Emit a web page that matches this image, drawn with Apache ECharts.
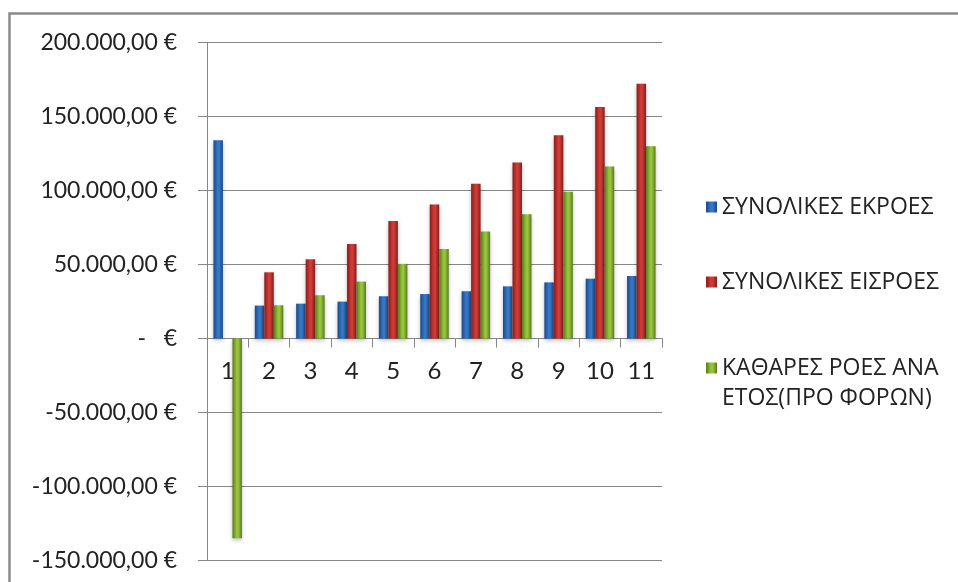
<!DOCTYPE html>
<html>
<head>
<meta charset="utf-8">
<style>
  html, body { margin: 0; padding: 0; background: #ffffff; }
  #chart { width: 958px; height: 582px; }
</style>
<script src="https://cdn.jsdelivr.net/npm/echarts@6/dist/echarts.min.js"></script>
</head>
<body>
<div id="chart"></div>
<script>
// Years of the investment plan
const years = ['1', '2', '3', '4', '5', '6', '7', '8', '9', '10', '11'];

// Total outflows per year (€)
const outflows = [134000, 22300, 23600, 25000, 28600, 30100, 32000, 35300, 38000, 40500, 42300];

// Total inflows per year (€)
const inflows = [0, 44800, 53600, 63900, 79500, 90700, 104700, 119100, 137400, 156500, 172300];

// Net cash flow per year before taxes (€)
const netFlows = [-135000, 22500, 29300, 38500, 50500, 60500, 72300, 84000, 99200, 116400, 130000];

const seriesNames = [
  'ΣΥΝΟΛΙΚΕΣ ΕΚΡΟΕΣ',
  'ΣΥΝΟΛΙΚΕΣ ΕΙΣΡΟΕΣ',
  'ΚΑΘΑΡΕΣ ΡΟΕΣ ΑΝΑ ΕΤΟΣ(ΠΡΟ ΦΟΡΩΝ)'
];

// Axis range
const yMin = -150000, yMax = 200000, yStep = 50000;

// Plot box in pixels
const plotTop = 42.7, plotBottom = 560.5;

// Accounting-style euro format: zero is shown as a dash
function euro(v) {
  if (v === 0) return '-   €';
  const neg = v < 0;
  const s = Math.abs(v).toFixed(0).replace(/\B(?=(\d{3})+(?!\d))/g, '.');
  return (neg ? '-' : '') + s + ',00 €';
}

function barGradient(edge, mid) {
  return new echarts.graphic.LinearGradient(0, 0, 1, 0, [
    { offset: 0, color: edge },
    { offset: 0.45, color: mid },
    { offset: 0.6, color: mid },
    { offset: 1, color: edge }
  ]);
}

const palette = [
  { edge: '#1b4886', mid: '#3677c6' },
  { edge: '#871c1a', mid: '#cf3b36' },
  { edge: '#587a1c', mid: '#98c43c' }
];

const textColor = '#222222';
const gridColor = '#868686';

// Category axis sits on the zero line: shift it up from the plot bottom
const zeroOffset = -(plotBottom - plotTop) * (0 - yMin) / (yMax - yMin);

function makeBar(i, data) {
  return {
    name: seriesNames[i],
    type: 'bar',
    data: data,
    barWidth: 9.5,
    barGap: '0%',
    itemStyle: {
      color: barGradient(palette[i].edge, palette[i].mid),
      shadowColor: 'rgba(0,0,0,0.25)',
      shadowBlur: 4,
      shadowOffsetY: 2
    },
    emphasis: { disabled: true },
    animation: false
  };
}

function legendBlock(i, top, formatter) {
  const block = {
    left: 706,
    top: top,
    orient: 'vertical',
    padding: 0,
    itemWidth: 11,
    itemHeight: 11,
    itemGap: 0,
    icon: 'rect',
    selectedMode: false,
    data: [{ name: seriesNames[i], itemStyle: { color: barGradient(palette[i].edge, palette[i].mid) } }],
    textStyle: {
      fontFamily: '"Open Sans", "Noto Sans", sans-serif',
      fontSize: 23,
      color: textColor,
      lineHeight: 30
    }
  };
  if (formatter) block.formatter = formatter;
  return block;
}

const chart = echarts.init(document.getElementById('chart'), null, { renderer: 'canvas' });

chart.setOption({
  backgroundColor: '#ffffff',
  animation: false,
  grid: {
    left: 207, right: 296, top: plotTop, bottom: 582 - plotBottom,
    containLabel: false, outerBoundsMode: 'none'
  },
  xAxis: {
    type: 'category',
    data: years,
    position: 'bottom',
    offset: zeroOffset,
    axisLine: { onZero: false, lineStyle: { color: gridColor, width: 1 } },
    axisTick: { show: true, length: 9, lineStyle: { color: gridColor } },
    axisLabel: {
      margin: 21,
      fontFamily: 'Lato, "Open Sans", sans-serif',
      fontSize: 24,
      color: textColor
    },
    splitLine: { show: false }
  },
  yAxis: {
    type: 'value',
    min: yMin,
    max: yMax,
    interval: yStep,
    axisLine: { show: true, lineStyle: { color: gridColor, width: 1 } },
    axisTick: { show: true, length: 9, lineStyle: { color: gridColor } },
    axisLabel: {
      margin: 30,
      formatter: euro,
      fontFamily: 'Lato, "Open Sans", sans-serif',
      fontSize: 23,
      color: textColor
    },
    splitLine: { show: true, lineStyle: { color: gridColor, width: 1 } }
  },
  legend: [
    legendBlock(0, 192),
    legendBlock(1, 267),
    legendBlock(2, 323, function () { return '\nΚΑΘΑΡΕΣ ΡΟΕΣ ΑΝΑ\nΕΤΟΣ(ΠΡΟ ΦΟΡΩΝ)'; })
  ],
  graphic: [{
    type: 'rect',
    z: 100,
    silent: true,
    shape: { x: 9.5, y: 13.5, width: 970, height: 600 },
    style: { fill: 'none', stroke: '#8a8a8a', lineWidth: 2.5 }
  }],
  series: [
    makeBar(0, outflows),
    makeBar(1, inflows),
    makeBar(2, netFlows)
  ]
});
</script>
</body>
</html>
